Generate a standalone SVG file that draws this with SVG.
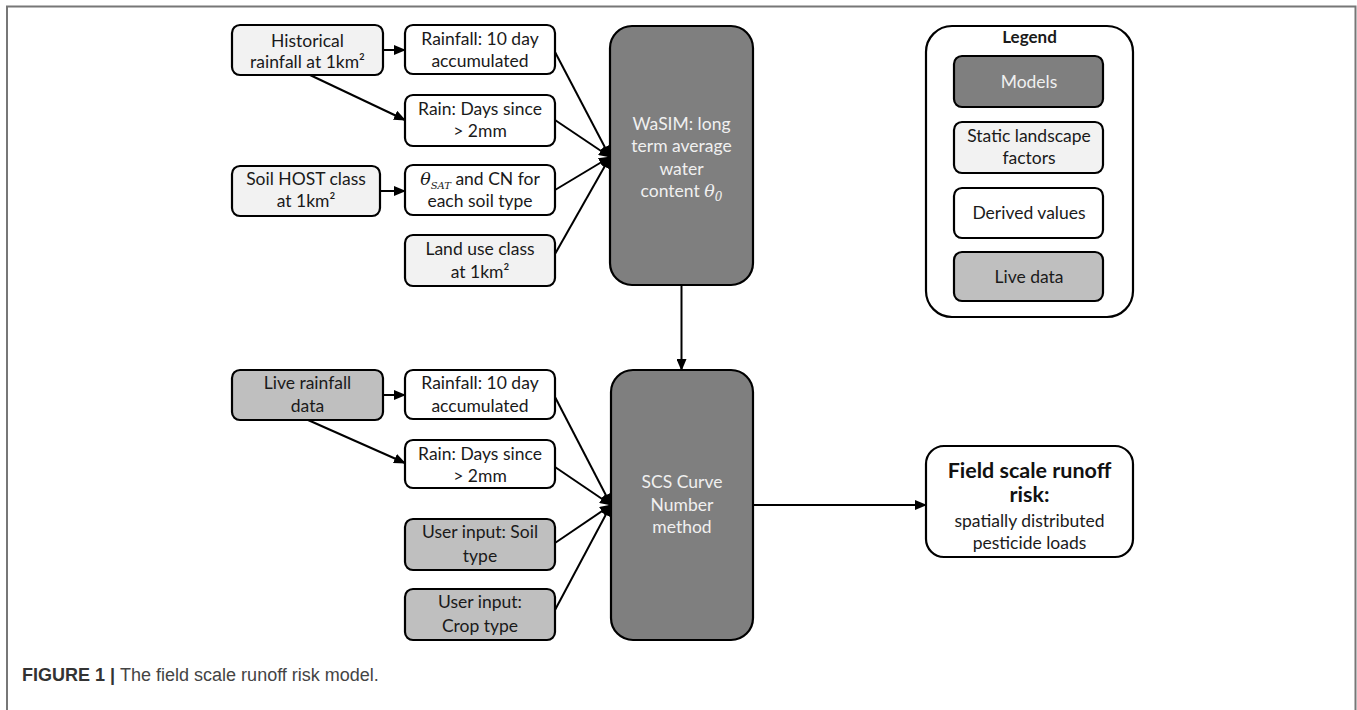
<svg xmlns="http://www.w3.org/2000/svg" width="1357" height="710" viewBox="0 0 1357 710">
<style>
.box{stroke:#000;stroke-width:2.2}
.model{fill:#7f7f7f}
.static{fill:#f2f2f2}
.derived{fill:#fff}
.live{fill:#bfbfbf}
.t{font-family:Lato,"Liberation Sans",sans-serif;font-size:17.5px;fill:#1a1a1a;text-anchor:middle}
.tw{font-family:Lato,"Liberation Sans",sans-serif;font-size:17.5px;fill:#f0f0f0;text-anchor:middle}
.tb{font-family:Lato,"Liberation Sans",sans-serif;font-size:21.5px;font-weight:bold;fill:#111;text-anchor:middle}
.it{font-family:"DejaVu Serif","Liberation Serif",serif;font-style:italic}
.c{stroke:#000;stroke-width:2;fill:none}
.cap{font-family:"Liberation Sans",Arial,sans-serif;font-size:18px;fill:#444}
</style>
<defs>
<marker id="ah" markerWidth="12" markerHeight="10" refX="11" refY="5" orient="auto" markerUnits="userSpaceOnUse">
<path d="M0,0 L12,5 L0,10 Z" fill="#000"/>
</marker>
</defs>
<rect width="1357" height="710" fill="#fff"/>
<path d="M7,710 V6.5 H1355.5 V710" fill="none" stroke="#777" stroke-width="2"/>

<g id="connectors">
<line class="c" x1="383" y1="50" x2="405" y2="50" marker-end="url(#ah)"/>
<line class="c" x1="310" y1="75" x2="405" y2="120" marker-end="url(#ah)"/>
<line class="c" x1="380" y1="191" x2="405" y2="191" marker-end="url(#ah)"/>
<line class="c" x1="555" y1="52" x2="610" y2="157" marker-end="url(#ah)"/>
<line class="c" x1="555" y1="120" x2="610" y2="157" marker-end="url(#ah)"/>
<line class="c" x1="555" y1="190" x2="610" y2="157" marker-end="url(#ah)"/>
<line class="c" x1="555" y1="254" x2="610" y2="157" marker-end="url(#ah)"/>
<line class="c" x1="681.5" y1="285" x2="681.5" y2="370" marker-end="url(#ah)"/>
<line class="c" x1="383" y1="395" x2="405" y2="395" marker-end="url(#ah)"/>
<line class="c" x1="308" y1="420" x2="405" y2="463" marker-end="url(#ah)"/>
<line class="c" x1="555" y1="397" x2="611" y2="505" marker-end="url(#ah)"/>
<line class="c" x1="555" y1="467" x2="611" y2="505" marker-end="url(#ah)"/>
<line class="c" x1="555" y1="543" x2="611" y2="505" marker-end="url(#ah)"/>
<line class="c" x1="555" y1="610" x2="611" y2="505" marker-end="url(#ah)"/>
<line class="c" x1="753" y1="505" x2="926" y2="505" marker-end="url(#ah)"/>
</g>

<g id="historical">
<rect class="box static" x="232" y="25" width="151" height="50" rx="8"/>
<text class="t" x="307.5" y="47">Historical</text>
<text class="t" x="307.5" y="68">rainfall at 1km²</text>
</g>
<g id="rain10a">
<rect class="box derived" x="405" y="25" width="150" height="49" rx="8"/>
<text class="t" x="480" y="45">Rainfall: 10 day</text>
<text class="t" x="480" y="67">accumulated</text>
</g>
<g id="raindaysa">
<rect class="box derived" x="405" y="95" width="150" height="51" rx="8"/>
<text class="t" x="480" y="115">Rain: Days since</text>
<text class="t" x="480" y="137">&gt; 2mm</text>
</g>
<g id="soilhost">
<rect class="box static" x="232" y="166" width="148" height="50" rx="8"/>
<text class="t" x="306" y="185">Soil HOST class</text>
<text class="t" x="306" y="207">at 1km²</text>
</g>
<g id="thetasat">
<rect class="box derived" x="405" y="165" width="150" height="50" rx="8"/>
<text class="t" x="480" y="185"><tspan class="it">θ</tspan><tspan class="it" style="font-size:10px" dy="4">SAT</tspan><tspan dy="-4"> and CN for</tspan></text>
<text class="t" x="480" y="207">each soil type</text>
</g>
<g id="landuse">
<rect class="box static" x="405" y="235" width="150" height="51" rx="8"/>
<text class="t" x="480" y="255">Land use class</text>
<text class="t" x="480" y="278">at 1km²</text>
</g>
<g id="wasim">
<rect class="box model" x="610" y="26" width="143" height="259" rx="22"/>
<text class="tw" x="681.5" y="130">WaSIM: long</text>
<text class="tw" x="681.5" y="152">term average</text>
<text class="tw" x="681.5" y="175">water</text>
<text class="tw" x="681.5" y="197">content <tspan class="it">θ</tspan><tspan class="it" style="font-size:12px" dy="4">0</tspan></text>
</g>

<g id="liverain">
<rect class="box live" x="232" y="370" width="151" height="50" rx="8"/>
<text class="t" x="307.5" y="389">Live rainfall</text>
<text class="t" x="307.5" y="412">data</text>
</g>
<g id="rain10b">
<rect class="box derived" x="405" y="370" width="150" height="49" rx="8"/>
<text class="t" x="480" y="389">Rainfall: 10 day</text>
<text class="t" x="480" y="412">accumulated</text>
</g>
<g id="raindaysb">
<rect class="box derived" x="405" y="440" width="150" height="48" rx="8"/>
<text class="t" x="480" y="460">Rain: Days since</text>
<text class="t" x="480" y="482">&gt; 2mm</text>
</g>
<g id="usersoil">
<rect class="box live" x="405" y="519" width="150" height="51" rx="8"/>
<text class="t" x="480" y="538">User input: Soil</text>
<text class="t" x="480" y="562">type</text>
</g>
<g id="usercrop">
<rect class="box live" x="405" y="589" width="150" height="51" rx="8"/>
<text class="t" x="480" y="608">User input:</text>
<text class="t" x="480" y="632">Crop type</text>
</g>
<g id="scs">
<rect class="box model" x="611" y="370" width="142" height="270" rx="22"/>
<text class="tw" x="682" y="488">SCS Curve</text>
<text class="tw" x="682" y="511">Number</text>
<text class="tw" x="682" y="533">method</text>
</g>
<g id="field">
<rect class="box derived" x="926" y="446" width="207" height="111" rx="18"/>
<text class="tb" x="1029.5" y="478">Field scale runoff</text>
<text class="tb" x="1029.5" y="502">risk:</text>
<text class="t" x="1029.5" y="527">spatially distributed</text>
<text class="t" x="1029.5" y="549">pesticide loads</text>
</g>

<g id="legend">
<rect class="box derived" x="926" y="26" width="207" height="291" rx="26"/>
<text class="t" x="1029.5" y="43" style="font-weight:bold;font-size:17px">Legend</text>
<rect class="box model" x="954" y="56" width="149" height="51" rx="8"/>
<text class="tw" x="1029" y="88">Models</text>
<rect class="box static" x="954" y="122" width="149" height="51" rx="8"/>
<text class="t" x="1029" y="142">Static landscape</text>
<text class="t" x="1029" y="164">factors</text>
<rect class="box derived" x="954" y="188" width="149" height="50" rx="8"/>
<text class="t" x="1029" y="219">Derived values</text>
<rect class="box live" x="954" y="252" width="149" height="49" rx="8"/>
<text class="t" x="1029" y="283">Live data</text>
</g>

<text class="cap" x="22" y="681"><tspan font-weight="bold" fill="#333">FIGURE 1 | </tspan>The field scale runoff risk model.</text>
</svg>
